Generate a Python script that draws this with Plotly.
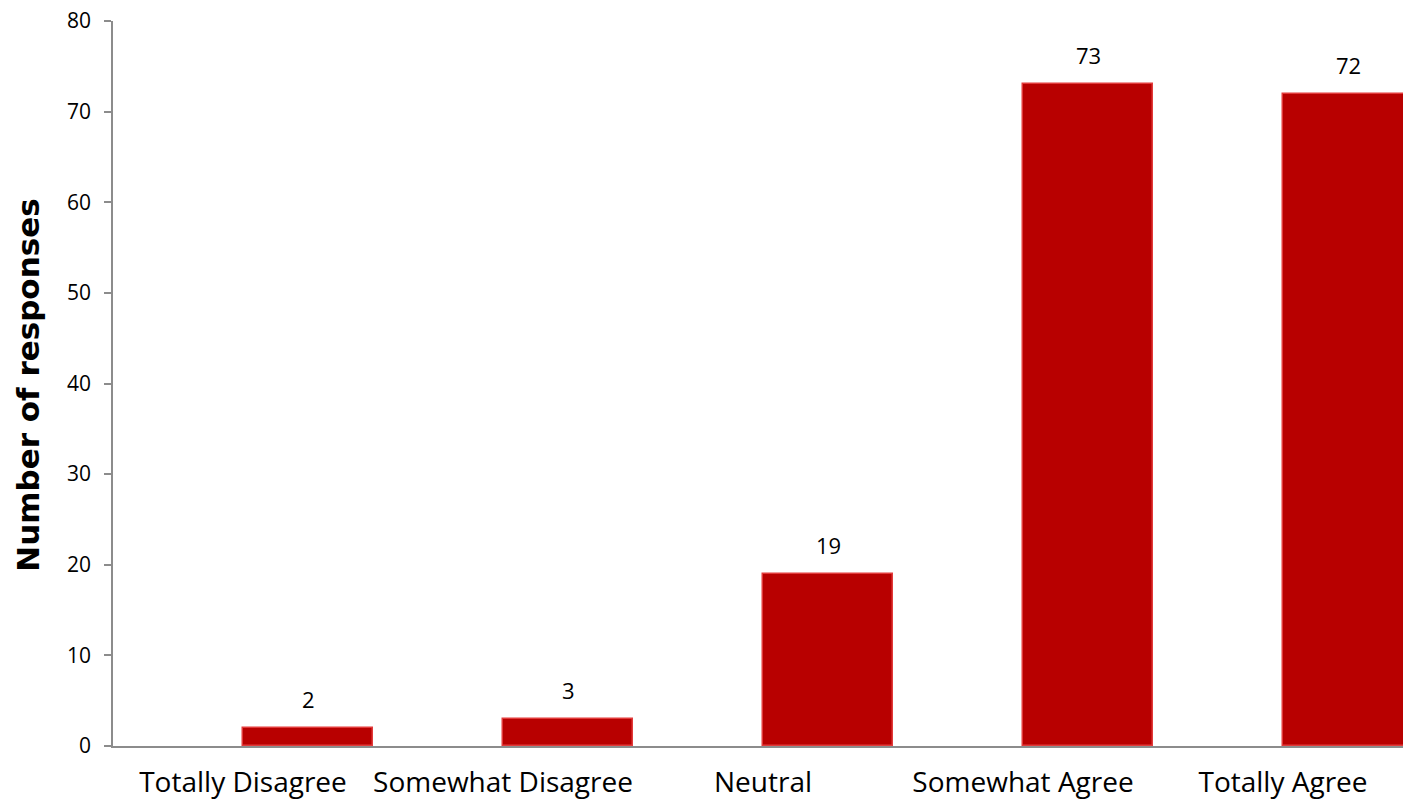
import plotly.graph_objects as go

categories = ["Totally Disagree", "Somewhat Disagree", "Neutral", "Somewhat Agree", "Totally Agree"]
responses = [2, 3, 19, 73, 72]
y_ticks = [0, 10, 20, 30, 40, 50, 60, 70, 80]

FONT = "'Open Sans', Lato, sans-serif"
TITLE_FONT = "'DejaVu Sans', 'Open Sans', sans-serif"
BAR_RED = "#B80000"
EDGE_RED = "#E23A3A"

positions = list(range(len(categories)))

fig = go.Figure()

# Each bar starts at its category centre and fills the right half of the slot
fig.add_trace(go.Bar(
    x=positions,
    y=responses,
    offset=0,
    width=0.5,
    marker=dict(color=BAR_RED, line=dict(color=EDGE_RED, width=1.5)),
    hoverinfo="skip",
    showlegend=False,
))

# Value labels above the bars
for p, v in zip(positions, responses):
    fig.add_annotation(
        x=p + 0.25, y=v, text=str(v), showarrow=False,
        yanchor="bottom", yshift=12,
        font=dict(family=FONT, size=22, color="#000000"),
    )

# Vertical axis title
fig.add_annotation(
    xref="paper", yref="paper", x=-0.066, y=0.498,
    text="<b>Number of responses</b>", textangle=-90, showarrow=False,
    xanchor="center", yanchor="middle",
    font=dict(family=TITLE_FONT, size=31, color="#000000"),
)

fig.update_layout(
    width=1403, height=800,
    margin=dict(l=113, r=0, t=21, b=54, autoexpand=False),
    paper_bgcolor="white", plot_bgcolor="white",
    font=dict(family=FONT, size=21, color="#000000"),
    bargap=0,
    xaxis=dict(
        range=[-0.5, 4.4615],
        tickmode="array", tickvals=positions, ticktext=categories,
        showgrid=False, zeroline=False,
        showline=True, linecolor="#8C8C8C", linewidth=1.5,
        ticks="", ticklabelstandoff=11,
        tickfont=dict(family=FONT, size=28, color="#000000"),
        fixedrange=True,
    ),
    yaxis=dict(
        range=[0, 80],
        tickmode="array", tickvals=y_ticks,
        showgrid=False, zeroline=False,
        showline=True, linecolor="#8C8C8C", linewidth=1.5,
        ticks="outside", ticklen=7, tickcolor="#8C8C8C", tickwidth=1.5,
        ticklabelstandoff=9,
        tickfont=dict(family=FONT, size=21, color="#000000"),
        fixedrange=True,
    ),
)

fig.write_html("out.html")
